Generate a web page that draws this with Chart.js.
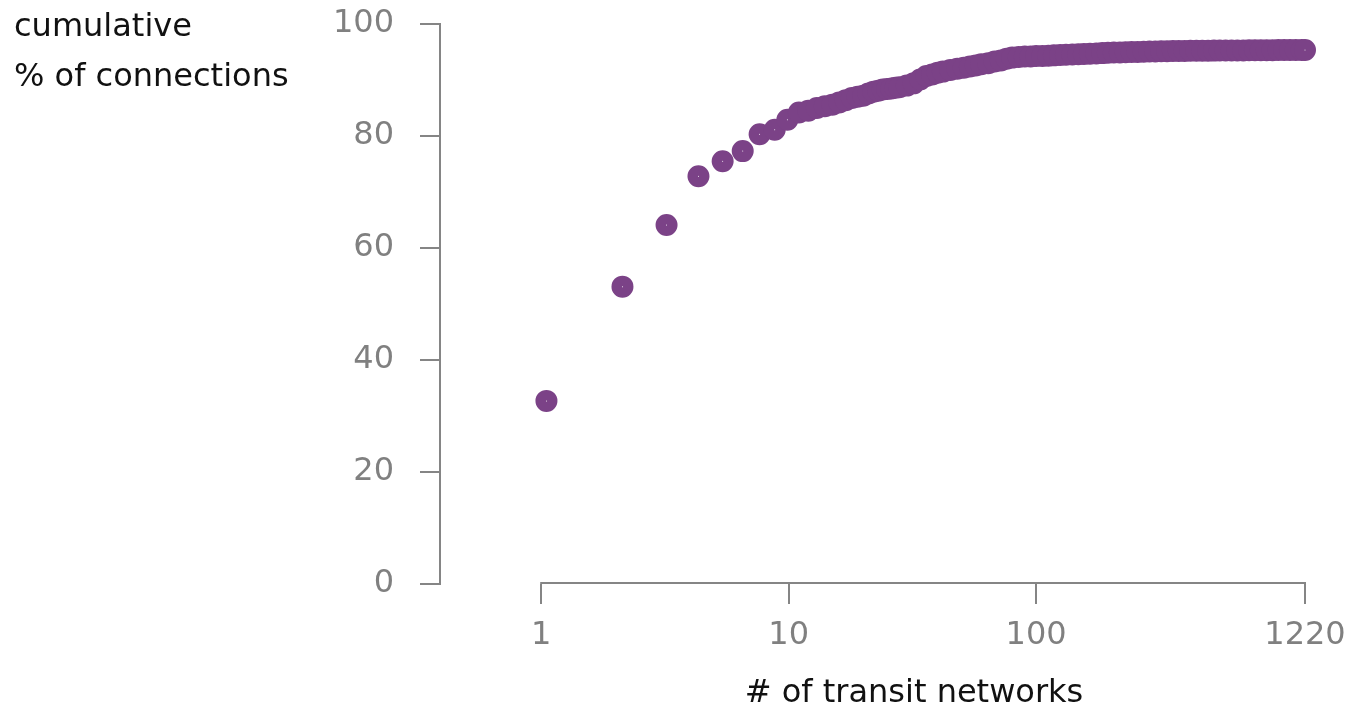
<!DOCTYPE html>
<html>
<head>
<meta charset="utf-8">
<script src="https://cdn.jsdelivr.net/npm/chart.js@4.4.1/dist/chart.umd.min.js"></script>
<style>
	body { margin: 0; background: #fff; }
	canvas { display: block; }
</style>
</head>
<body>
<canvas id="cdf" width="1348" height="708"></canvas>
<script>
(function () {

	'use strict';

	// number of transit networks
	var networks = [
		1.05, 2.13, 3.21, 4.32, 5.41, 6.52, 7.63, 8.78, 9.88, 11.0,
		12, 13, 14, 15, 16, 17, 18, 19, 20, 21, 22, 23, 24, 25, 26, 27, 28,
		30, 32, 34, 36, 38, 40, 42, 45, 48, 51, 54, 57, 60, 64, 68, 72, 76, 80,
		85, 90, 95, 100, 106, 112, 118, 125, 132, 140, 148, 156, 165, 175, 185,
		195, 206, 218, 230, 243, 257, 272, 287, 303, 320, 338, 357, 377, 398,
		420, 444, 469, 495, 523, 552, 583, 616, 650, 687, 725, 766, 809, 854,
		902, 952, 1005, 1061, 1120, 1183, 1220
	];

	// cumulative % of connections
	var cumulative = [
		32.7, 53.1, 64.1, 72.8, 75.5, 77.3, 80.3, 81.1, 82.9, 84.2,
		84.5, 85.0, 85.3, 85.6, 86.0, 86.4, 86.8, 87.0, 87.2, 87.6, 87.9, 88.1, 88.3, 88.4, 88.5, 88.6, 88.7,
		89.0, 89.4, 90.1, 90.7, 91.0, 91.3, 91.5, 91.8, 92.0, 92.2, 92.4, 92.6, 92.8, 93.0, 93.3, 93.5, 93.8, 94.0,
		94.1, 94.2, 94.2, 94.3, 94.3, 94.35, 94.4, 94.45, 94.5, 94.55, 94.6, 94.65, 94.7, 94.75, 94.8,
		94.85, 94.9, 94.9, 94.95, 95.0, 95.0, 95.05, 95.1, 95.1, 95.15, 95.15, 95.2, 95.2, 95.2,
		95.22, 95.22, 95.24, 95.24, 95.25, 95.26, 95.27, 95.28, 95.28, 95.29, 95.3, 95.3, 95.31, 95.32,
		95.33, 95.34, 95.34, 95.35, 95.35, 95.36, 95.36
	];

	var xTicks = [1, 10, 100, 1220];
	var yTicks = [0, 20, 40, 60, 80, 100];

	var purple = '#7b4287';
	var axisGray = '#858585';
	var labelGray = '#808080';
	var fontFamily = '"DejaVu Sans", sans-serif';

	var points = networks.map(function (n, i) {
		return { x: n, y: cumulative[i] };
	});

	// y axis title top left, x axis title, and the detached x axis line
	var decorations = {
		id: 'decorations',
		afterDraw: function (chart) {
			var ctx = chart.ctx;
			var x = chart.scales.x;
			var bottom = chart.chartArea.bottom - 1;

			ctx.save();
			ctx.strokeStyle = axisGray;
			ctx.lineWidth = 2;
			ctx.beginPath();
			ctx.moveTo(x.getPixelForValue(xTicks[0]) - 1, bottom);
			ctx.lineTo(x.getPixelForValue(xTicks[xTicks.length - 1]) + 1, bottom);
			ctx.stroke();

			ctx.fillStyle = '#111';
			ctx.font = '32px ' + fontFamily;
			ctx.textBaseline = 'alphabetic';
			ctx.textAlign = 'left';
			ctx.fillText('cumulative', 14, 36);
			ctx.fillText('% of connections', 14, 86);

			ctx.textAlign = 'center';
			ctx.fillText('# of transit networks', 914, 702);
			ctx.restore();
		}
	};

	new Chart(document.getElementById('cdf'), {
		type: 'scatter',
		data: {
			datasets: [{
				data: points,
				showLine: false,
				pointRadius: 5.75,
				pointHoverRadius: 5.75,
				borderWidth: 10.5,
				borderColor: purple,
				backgroundColor: '#ffffff',
				clip: false
			}]
		},
		options: {
			responsive: false,
			animation: false,
			events: [],
			layout: { padding: { top: 24, right: 43, bottom: 0, left: 0 } },
			plugins: {
				legend: { display: false },
				tooltip: { enabled: false }
			},
			scales: {
				x: {
					type: 'logarithmic',
					min: 0.39,
					max: 1220,
					border: { display: false },
					grid: {
						drawOnChartArea: false,
						drawTicks: true,
						tickLength: 20,
						color: axisGray,
						lineWidth: 2
					},
					afterBuildTicks: function (scale) {
						scale.ticks = xTicks.map(function (v) { return { value: v }; });
					},
					afterFit: function (scale) {
						scale.height = 124;
						scale.paddingLeft = 0;
						scale.paddingRight = 0;
					},
					ticks: {
						autoSkip: false,
						maxRotation: 0,
						padding: 12,
						color: labelGray,
						font: { family: fontFamily, size: 32 },
						callback: function (value) { return String(value); }
					}
				},
				y: {
					min: 0,
					max: 100,
					border: { display: true, color: axisGray, width: 2 },
					grid: {
						drawOnChartArea: false,
						drawTicks: true,
						tickLength: 20,
						color: axisGray,
						lineWidth: 2
					},
					afterBuildTicks: function (scale) {
						scale.ticks = yTicks.map(function (v) { return { value: v }; });
					},
					afterFit: function (scale) {
						scale.width = 440;
						scale.paddingTop = 0;
						scale.paddingBottom = 0;
					},
					ticks: {
						padding: 26,
						color: labelGray,
						font: { family: fontFamily, size: 32 }
					}
				}
			}
		},
		plugins: [decorations]
	});

})();
</script>
</body>
</html>
